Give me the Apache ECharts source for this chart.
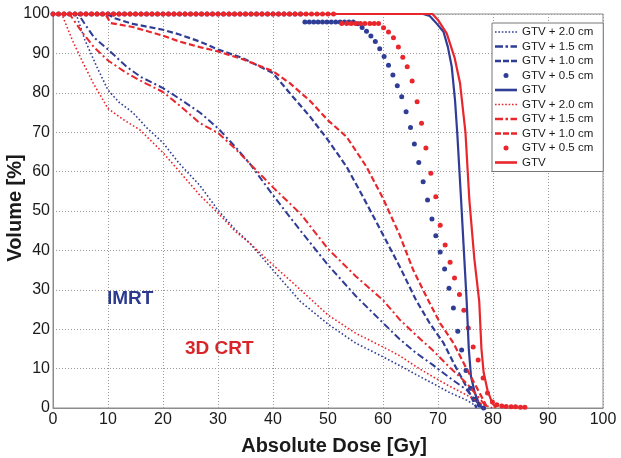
<!DOCTYPE html>
<html><head><meta charset="utf-8">
<script src="https://cdn.jsdelivr.net/npm/echarts@6/dist/echarts.min.js"></script>
<style>html,body{margin:0;padding:0;background:#fff}#c{width:621px;height:458px}</style>
</head><body><div id="c"></div>
<script>
// ---- data (dose in Gy, volume in %) ----
const xTicks = [0,10,20,30,40,50,60,70,80,90,100];
const yTicks = [0,10,20,30,40,50,60,70,80,90,100];

const imrt20Dose = [0, 4.2, 5.8, 8, 10, 12, 14.5, 17, 20, 23, 26.7, 30, 33, 35.8, 40, 45, 50, 55, 60, 63, 66, 69, 72, 75.2, 77.5];
const imrt20Vol  = [100, 100, 93.4, 86.5, 80.7, 77.6, 75, 71.2, 67.3, 62, 56.5, 50.2, 45.5, 41.8, 35, 27, 21.3, 16.5, 13, 10.8, 8.5, 6.3, 4, 2, 0];

const imrt15Dose = [0, 4.6, 6, 7.5, 10, 13.4, 16, 20, 23, 26.7, 30, 33, 35.8, 40, 45, 50, 55, 60, 63, 66, 69, 72, 75.2, 78];
const imrt15Vol  = [100, 100, 97, 94, 91, 86.6, 84, 81.2, 78.5, 75, 71, 66.5, 62, 54, 45, 36.3, 28.5, 21.6, 17.5, 14, 11, 7.8, 4.6, 0];

const imrt10Dose = [0, 10, 11, 14.5, 20, 23, 26.7, 30, 34.5, 40, 43, 46.7, 50, 53.4, 56.4, 60, 63, 66, 68.5, 71, 73, 75.2, 77];
const imrt10Vol  = [100, 100, 99, 97.5, 96, 94.8, 93, 91, 88.8, 85, 80, 74, 68, 61.2, 53.5, 44, 36, 27.4, 21.5, 16.5, 11, 5.3, 0];

const imrt05Dose = [0,1,2,3,4,5,6,7,8,9,10,11,12,13,14,15,16,17,18,19,20,21,22,23,24,25,26,27,28,29,30,31,32,33,34,35,36,37,38,39,40,41,42,43,44,45,
  45.8,46.6,47.4,48.2,49,49.8,50.6,51.4,52.2,53,53.8,54.6,
  55.4,56.2,57,57.8,58.6,59.4,60.2,61,61.8,62.6,63.4,64.2,65,65.7,66.5,67.3,68.1,68.9,69.6,70.4,71.2,72,72.8,73.6,74.3,75.1,75.9,76.7,77.5,78.3];
const imrt05Vol  = [100,100,100,100,100,100,100,100,100,100,100,100,100,100,100,100,100,100,100,100,100,100,100,100,100,100,100,100,100,100,100,100,100,100,100,100,100,100,100,100,100,100,100,100,100,100,
  98,98,98,98,98,98,98,98,98,98,98,98,
  97.5,96.6,95.6,94.4,93,91.2,89.2,87,84.5,81.8,79,75.2,71.2,67,62.3,57.4,52.8,48,43.7,39.6,35.3,30.4,25.4,19.5,14.7,9.5,5,2.2,0.8,0];

const imrtGtvDose = [0, 67.3, 68.5, 69.5, 71, 71.8, 72.5, 73.1, 73.5, 74.2, 74.7, 75.2, 75.6, 76, 76.7, 77.5, 78];
const imrtGtvVol  = [100, 100, 99.5, 98, 95.5, 91.6, 86.6, 78, 69.8, 52.8, 40, 27.4, 15, 8, 3.8, 1, 0];

const crt20Dose = [0, 1.6, 3.5, 5.5, 7.3, 10, 13, 15.8, 20, 23, 26.7, 30, 33, 35.8, 40, 45, 50, 55, 60, 63, 66, 69, 72, 75.2, 78, 80];
const crt20Vol  = [100, 100, 93.4, 87.5, 82.5, 76, 73, 70.6, 64.8, 60, 54, 49.5, 45, 41.8, 36.3, 30, 23.6, 19, 15.5, 13.3, 10.5, 8, 5.6, 3.3, 1, 0];

const crt15Dose = [0, 3, 5.5, 7.5, 10, 13.4, 16, 20, 23, 26.7, 30, 33, 35.8, 40, 45, 50, 55, 60, 63, 66, 69, 72, 75.2, 79];
const crt15Vol  = [100, 100, 95, 91.5, 88.2, 85, 83, 80.2, 76.8, 72.3, 69.8, 66, 62, 56, 49.3, 40.4, 33.5, 27.4, 22.5, 18.5, 14.7, 10.5, 6.3, 0];

const crt10Dose = [0, 9.5, 10.5, 14.5, 20, 23, 26.7, 30, 34.5, 40, 43, 46.7, 50, 53.4, 57, 60, 63, 65.5, 68.2, 70.4, 72.8, 75, 77, 79];
const crt10Vol  = [100, 100, 97.7, 96.7, 94.5, 93, 91.6, 90.5, 88.5, 85.5, 82.5, 78, 73, 68.8, 61.2, 53.2, 44, 35, 27.4, 21.5, 16.5, 10.5, 5.3, 0];

const crt05Dose = [0,1,2,3,4,5,6,7,8,9,10,11,12,13,14,15,16,17,18,19,20,21,22,23,24,25,26,27,28,29,30,31,32,33,34,35,36,37,38,39,40,41,42,43,44,45,46,47,48,49,50,51,
  52.5,53.4,54.2,55,55.9,56.7,57.6,58.4,59.2,
  60.1,61,61.9,62.8,63.6,64.4,65.3,66.2,67,67.8,68.7,69.6,70.4,71.3,72.2,73,73.9,74.7,75.5,76.4,77.3,78.2,79,79.9,80.7,81.6,82.4,83.3,84.1,85,85.8];
const crt05Vol  = [100,100,100,100,100,100,100,100,100,100,100,100,100,100,100,100,100,100,100,100,100,100,100,100,100,100,100,100,100,100,100,100,100,100,100,100,100,100,100,100,100,100,100,100,100,100,100,100,100,100,100,100,
  97.6,97.6,97.6,97.6,97.6,97.6,97.6,97.6,97.6,
  96.5,95.4,94,91.6,89,86.6,83,77.7,72.3,66,59.6,53.6,46.4,41.4,37,33,28.8,24.8,20.3,15.5,12.2,7.6,3.8,1.5,0.8,0.5,0.4,0.3,0.3,0.2,0.2];

const crtGtvDose = [0, 69, 70, 71.6, 73, 74, 75, 75.7, 76.6, 77.5, 77.9, 78.3, 79, 79.8, 80.5];
const crtGtvVol  = [100, 100, 98.5, 95, 89, 82.5, 69.8, 52.8, 38, 27, 15, 9, 4.5, 1.5, 0];

const legendLabels = ['GTV + 2.0 cm','GTV + 1.5 cm','GTV + 1.0 cm','GTV + 0.5 cm','GTV'];

// ---- styling ----
const BLUE = '#2f3d96', RED = '#e8262b';
const FONT = '"Liberation Sans", Arial, Helvetica, sans-serif';
function pairs(d, v) { return d.map((x, i) => [x, v[i]]); }

const ICON = {
  dotted: 'path://M0,0h1.6v1.6h-1.6zM3.4,0h1.6v1.6h-1.6zM6.8,0h1.6v1.6h-1.6zM10.2,0h1.6v1.6h-1.6zM13.6,0h1.6v1.6h-1.6zM17,0h1.6v1.6h-1.6zM20.4,0h1.6v1.6h-1.6z',
  dashdot: 'path://M0,0h8v2.4h-8zM10.5,0h2.5v2.4h-2.5zM15.5,0h6.5v2.4h-6.5z',
  dashed: 'path://M0,0h6v2.6h-6zM8,0h6v2.6h-6zM16,0h6v2.6h-6z',
  dot: 'circle',
  solid: 'path://M0,0h22v2.6h-22z'
};
const STYLES = [
  {key:'dotted', line:{width:1.6, type:[1.6,2.2]}},
  {key:'dashdot', line:{width:2, type:[7,3,2,3]}},
  {key:'dashed', line:{width:2.2, type:[6,3]}},
  {key:'dot'},
  {key:'solid', line:{width:2.2, type:'solid'}}
];

const groups = [
  {prefix:'IMRT', color:BLUE, sets:[[imrt20Dose,imrt20Vol],[imrt15Dose,imrt15Vol],[imrt10Dose,imrt10Vol],[imrt05Dose,imrt05Vol],[imrtGtvDose,imrtGtvVol]]},
  {prefix:'3DCRT', color:RED, sets:[[crt20Dose,crt20Vol],[crt15Dose,crt15Vol],[crt10Dose,crt10Vol],[crt05Dose,crt05Vol],[crtGtvDose,crtGtvVol]]}
];

const series = [], legendData = [];
groups.forEach(g => {
  g.sets.forEach((s, i) => {
    const st = STYLES[i];
    const name = g.prefix + '|' + legendLabels[i];
    legendData.push({name: name, icon: ICON[st.key]});
    if (st.key === 'dot') {
      series.push({name, type:'scatter', data:pairs(s[0], s[1]), symbol:'circle', symbolSize:5,
        itemStyle:{color:g.color, opacity:1}, silent:true});
    } else {
      series.push({name, type:'line', data:pairs(s[0], s[1]), symbol:'none', showSymbol:false,
        lineStyle:Object.assign({color:g.color}, st.line), itemStyle:{color:g.color}, silent:true});
    }
  });
});

const chart = echarts.init(document.getElementById('c'), null, {renderer:'canvas'});
chart.setOption({
  animation:false,
  backgroundColor:'#fff',
  textStyle:{fontFamily:FONT},
  grid:{left:53, right:18, top:14, bottom:50, containLabel:false, outerBoundsMode:'none',
    show:true, borderColor:'#8c8c8c', borderWidth:1, backgroundColor:'transparent'},
  xAxis:{
    type:'value', min:0, max:100, interval:10,
    name:'Absolute Dose [Gy]', nameLocation:'middle', nameGap:28, nameMoveOverlap:false,
    nameTextStyle:{fontFamily:FONT, fontSize:20, fontWeight:'bold', color:'#1a1a1a', padding:[0,0,0,12]},
    axisLine:{show:true, lineStyle:{color:'#8c8c8c', width:1}},
    axisTick:{show:false},
    axisLabel:{fontFamily:FONT, fontSize:16, color:'#1a1a1a', margin:4, formatter:v => xTicks.includes(v) ? String(v) : ''},
    splitLine:{show:true, lineStyle:{color:'#9a9a9a', width:1, type:[1,2]}}
  },
  yAxis:{
    type:'value', min:0, max:100, interval:10,
    name:'Volume [%]', nameLocation:'middle', nameGap:28, nameRotate:90, nameMoveOverlap:false,
    nameTextStyle:{fontFamily:FONT, fontSize:20, fontWeight:'bold', color:'#1a1a1a', padding:[0,0,0,6]},
    axisLine:{show:true, lineStyle:{color:'#8c8c8c', width:1}},
    axisTick:{show:false},
    axisLabel:{fontFamily:FONT, fontSize:16, color:'#1a1a1a', margin:3, formatter:v => yTicks.includes(v) ? String(v) : ''},
    splitLine:{show:true, lineStyle:{color:'#9a9a9a', width:1, type:[1,2]}}
  },
  legend:{
    orient:'vertical', left:492, top:23,
    backgroundColor:'#fff', borderColor:'#777', borderWidth:1, borderRadius:0,
    padding:[2,10,2,3], itemGap:0.5, itemWidth:22, itemHeight:5, itemTextGap:4,
    itemStyle:{borderWidth:0},
    textStyle:{fontFamily:FONT, fontSize:11.5, lineHeight:14, color:'#1a1a1a'},
    formatter: n => n.split('|')[1],
    selectedMode:false,
    data:legendData
  },
  graphic:[
    {type:'text', left:107, top:289, silent:true,
      style:{text:'IMRT', fill:'#2b3a8f', font:'bold 19px ' + FONT}},
    {type:'text', left:185, top:339, silent:true,
      style:{text:'3D CRT', fill:'#d9252a', font:'bold 19px ' + FONT}}
  ],
  series:series
});
</script></body></html>
